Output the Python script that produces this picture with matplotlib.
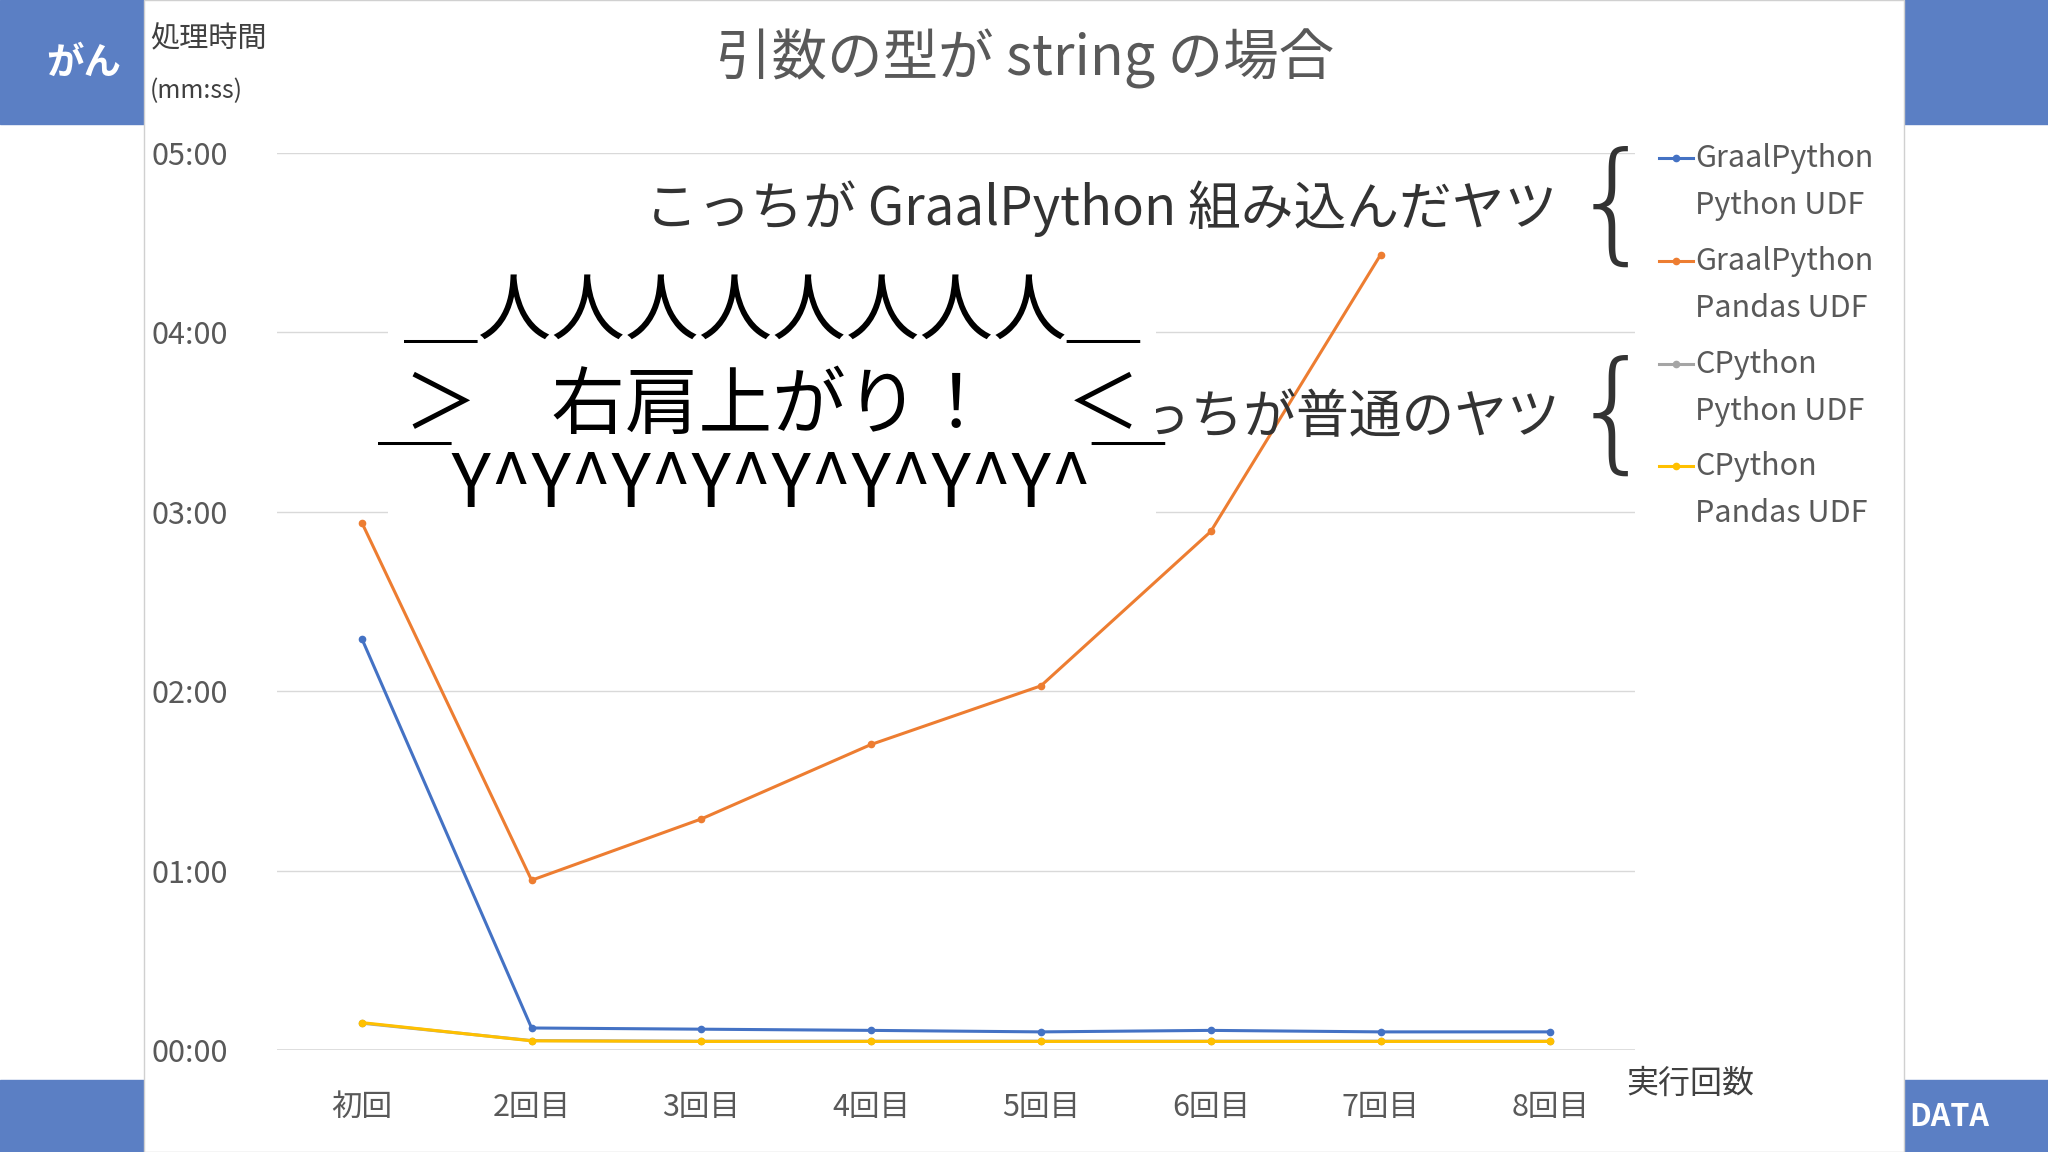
import matplotlib
matplotlib.use("Agg")
import matplotlib.pyplot as plt
from matplotlib.patches import Rectangle
from matplotlib.lines import Line2D
from matplotlib.ticker import FuncFormatter

plt.rcParams['font.family'] = ['Noto Sans CJK JP', 'DejaVu Sans']

categories = ["初回", "2回目", "3回目", "4回目", "5回目", "6回目", "7回目", "8回目"]
# seconds
graal_python = [137.6, 7.4, 7.0, 6.6, 6.1, 6.6, 6.1, 6.1]
graal_pandas = [176.4, 56.8, 77.3, 102.2, 121.8, 173.4, 265.9, None]
cpy_python = [9.0, 3.2, 3.0, 3.0, 3.0, 3.0, 3.0, 3.0]
cpy_pandas = [9.2, 3.1, 2.9, 2.9, 2.9, 2.9, 2.9, 2.9]
series = [
    ("GraalPython\nPython UDF", graal_python, "#4472C4"),
    ("GraalPython\nPandas UDF", graal_pandas, "#ED7D31"),
    ("CPython\nPython UDF", cpy_python, "#A5A5A5"),
    ("CPython\nPandas UDF", cpy_pandas, "#FFC000"),
]
yticks = [0, 60, 120, 180, 240, 300]

W, H = 1568, 882


def P(x, y):
    return x / W, 1 - y / H


fig = plt.figure(figsize=(20.48, 11.52), dpi=100)
BLUE_BG = "#5B7FC4"
for (x0, y0, w, h) in [(0, 0, 110, 95), (1458, 0, 110, 95), (0, 827, 110, 55), (1458, 827, 110, 55)]:
    fig.patches.append(Rectangle((x0 / W, 1 - (y0 + h) / H), w / W, h / H,
                                 transform=fig.transFigure, color=BLUE_BG, zorder=0))
fig.patches.append(Rectangle((110 / W, 0), 1348 / W, 1, transform=fig.transFigure,
                             facecolor="white", edgecolor="#D0D0D0", lw=1, zorder=1))
fig.text(*P(35, 48), "がん", color="white", fontsize=27, fontweight="bold", va="center")
fig.text(*P(1462, 855), "DATA", color="white", fontsize=22, fontweight="bold", va="center")

ax = fig.add_axes([212 / W, 1 - 804 / H, 1040 / W, 687 / H])
ax.set_zorder(2)
ax.set_facecolor("none")
x = list(range(len(categories)))
for name, vals, c in [series[2], series[3], series[0], series[1]]:
    xs = [i for i, v in zip(x, vals) if v is not None]
    ys = [v for v in vals if v is not None]
    ax.plot(xs, ys, color=c, lw=2.2, marker="o", markersize=4.5)
ax.set_xlim(-0.5, 7.5)
ax.set_ylim(0, 300)
ax.set_yticks(yticks)
ax.yaxis.set_major_formatter(FuncFormatter(lambda v, p: f"{int(v)//60:02d}:{int(v)%60:02d}"))
ax.set_xticks(x)
ax.set_xticklabels(categories)
ax.tick_params(length=0, labelsize=22, colors="#595959", pad=30)
ax.tick_params(axis="y", pad=35)
ax.grid(True, axis="y", color="#D9D9D9", lw=1)
for s in ax.spines.values():
    s.set_visible(False)
ax.axhline(0, color="#D9D9D9", lw=1.2)

fig.text(*P(785, 45), "引数の型が string の場合", fontsize=40, color="#595959", ha="center", va="center")
fig.text(*P(115, 30), "処理時間", fontsize=21, color="#404040", va="center")
fig.text(*P(115, 70), "(mm:ss)", fontsize=18, color="#404040", va="center")
fig.text(*P(1245, 830), "実行回数", fontsize=23, color="#404040", va="center")

fig.text(*P(1192, 160), "こっちが GraalPython 組み込んだヤツ", fontsize=38, color="#333333",
         ha="right", va="center", zorder=5)
fig.text(*P(1195, 320), "こっちが普通のヤツ", fontsize=38, color="#333333",
         ha="right", va="center", zorder=5)
fig.patches.append(Rectangle((297 / W, 1 - 405 / H), 588 / W, 195 / H, transform=fig.transFigure,
                             facecolor="white", edgecolor="none", zorder=6))
for yy, line in [(240, "＿人人人人人人人人＿"), (312, "＞　右肩上がり！　＜"), (372, "￣Y^Y^Y^Y^Y^Y^Y^Y^￣")]:
    fig.text(*P(591, yy), line, fontsize=53, color="black", ha="center", va="center", zorder=7)

for yy in [160, 320]:
    fig.text(*P(1235, yy), "{", fontsize=95, color="#333333", ha="center", va="center",
             fontweight="light", family="DejaVu Sans")

for (name, vals, c), yy in zip(series, [121, 200, 279, 357]):
    x0, y0 = P(1270, yy)
    x1, _ = P(1296, yy)
    fig.add_artist(Line2D([x0, x1], [y0, y0], color=c, lw=2.2, transform=fig.transFigure))
    fig.add_artist(Line2D([(x0 + x1) / 2], [y0], color=c, marker="o", markersize=4.5,
                          transform=fig.transFigure))
    l1, l2 = name.split("\n")
    fig.text(*P(1298, yy), l1, fontsize=22, color="#595959", va="center")
    fig.text(*P(1298, yy + 36), l2, fontsize=22, color="#595959", va="center")

fig.savefig("out.png", dpi=100)
